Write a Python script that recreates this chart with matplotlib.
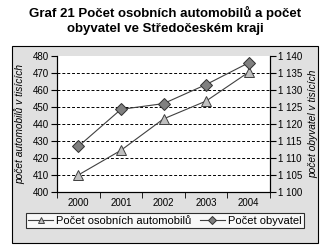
import matplotlib as mpl
mpl.use('Agg')
import matplotlib.pyplot as plt
from matplotlib.patches import Rectangle
import numpy as np

plt.rcParams['font.family'] = ['Liberation Sans', 'DejaVu Sans']

roky = ['2000', '2001', '2002', '2003', '2004']
automobily = [410.0, 424.5, 443.0, 453.5, 470.5]      # tisice, leva osa
obyvatele = [1113.4, 1124.3, 1126.0, 1131.6, 1138.0]  # tisice, prava osa

W, H = 330, 248
fig = plt.figure(figsize=(W / 100, H / 100), dpi=100)
fig.patch.set_facecolor('white')

# outer chart box
fig.patches.append(Rectangle((12 / W, 1 - 243 / H), 306 / W, 197 / H,
                             transform=fig.transFigure, facecolor='#e0e0e0',
                             edgecolor='black', linewidth=0.8, zorder=-5))

fig.text(165 / W, 1 - 13 / H, 'Graf 21 Počet osobních automobilů a počet',
         ha='center', va='center', fontsize=9.5, fontweight='bold')
fig.text(165 / W, 1 - 29 / H, 'obyvatel ve Středočeském kraji',
         ha='center', va='center', fontsize=9.5, fontweight='bold')

ax = fig.add_axes([57 / W, 1 - 192 / H, 213 / W, 136 / H])
ax.set_facecolor('white')
x = np.arange(len(roky))

l1, = ax.plot(x, automobily, color='#404040', linewidth=0.8, marker='^',
              markersize=7, markerfacecolor='#c0c0c0', markeredgecolor='#404040',
              markeredgewidth=0.7, label='Počet osobních automobilů', zorder=3)
ax.set_xlim(-0.5, 4.5)
ax.set_ylim(400, 480)
ax.set_yticks(range(400, 481, 10))
ax.tick_params(axis='y', labelsize=7, length=4, direction='out', pad=2)
ax.set_xticks(x)
ax.set_xticklabels(roky)
ax.set_xticks(np.arange(-0.5, 5, 1), minor=True)
ax.tick_params(axis='x', which='major', length=0, labelsize=7, pad=4)
ax.tick_params(axis='x', which='minor', length=4, direction='out')
for yv in range(410, 480, 10):
    ax.axhline(yv, color='black', linestyle=(0, (3, 2)), linewidth=0.7, zorder=1)
ax.spines['top'].set_visible(False)
for s in ['left', 'right', 'bottom']:
    ax.spines[s].set_linewidth(0.8)
ax.set_ylabel('počet automobilů v tisících', fontsize=7.3, style='italic',
              labelpad=5)

ax2 = ax.twinx()
l2, = ax2.plot(x, obyvatele, color='#404040', linewidth=0.8, marker='D',
               markersize=6, markerfacecolor='#808080', markeredgecolor='#303030',
               markeredgewidth=0.7, label='Počet obyvatel', zorder=3)
ax2.set_ylim(1100, 1140)
ax2.set_yticks(range(1100, 1141, 5))
ax2.set_yticklabels(['1 %03d' % (v - 1000) for v in range(1100, 1141, 5)])
ax2.tick_params(axis='y', labelsize=7, length=4, direction='out', pad=2)
ax2.spines['top'].set_visible(False)
ax2.set_ylabel('počet obyvatel v tisících', fontsize=7.3, style='italic',
               labelpad=4, rotation=90)

leg = fig.legend([l1, l2], [l1.get_label(), l2.get_label()], ncol=2,
                 loc='center', bbox_to_anchor=(165 / W, 1 - 220.5 / H),
                 fontsize=8, frameon=True, fancybox=False, borderpad=0.2,
                 handlelength=2.2, handletextpad=0.3, columnspacing=0.8,
                 markerscale=0.7)
leg.get_frame().set_edgecolor('black')
leg.get_frame().set_linewidth(0.8)
leg.get_frame().set_facecolor('white')

fig.savefig('out.png', dpi=100)
